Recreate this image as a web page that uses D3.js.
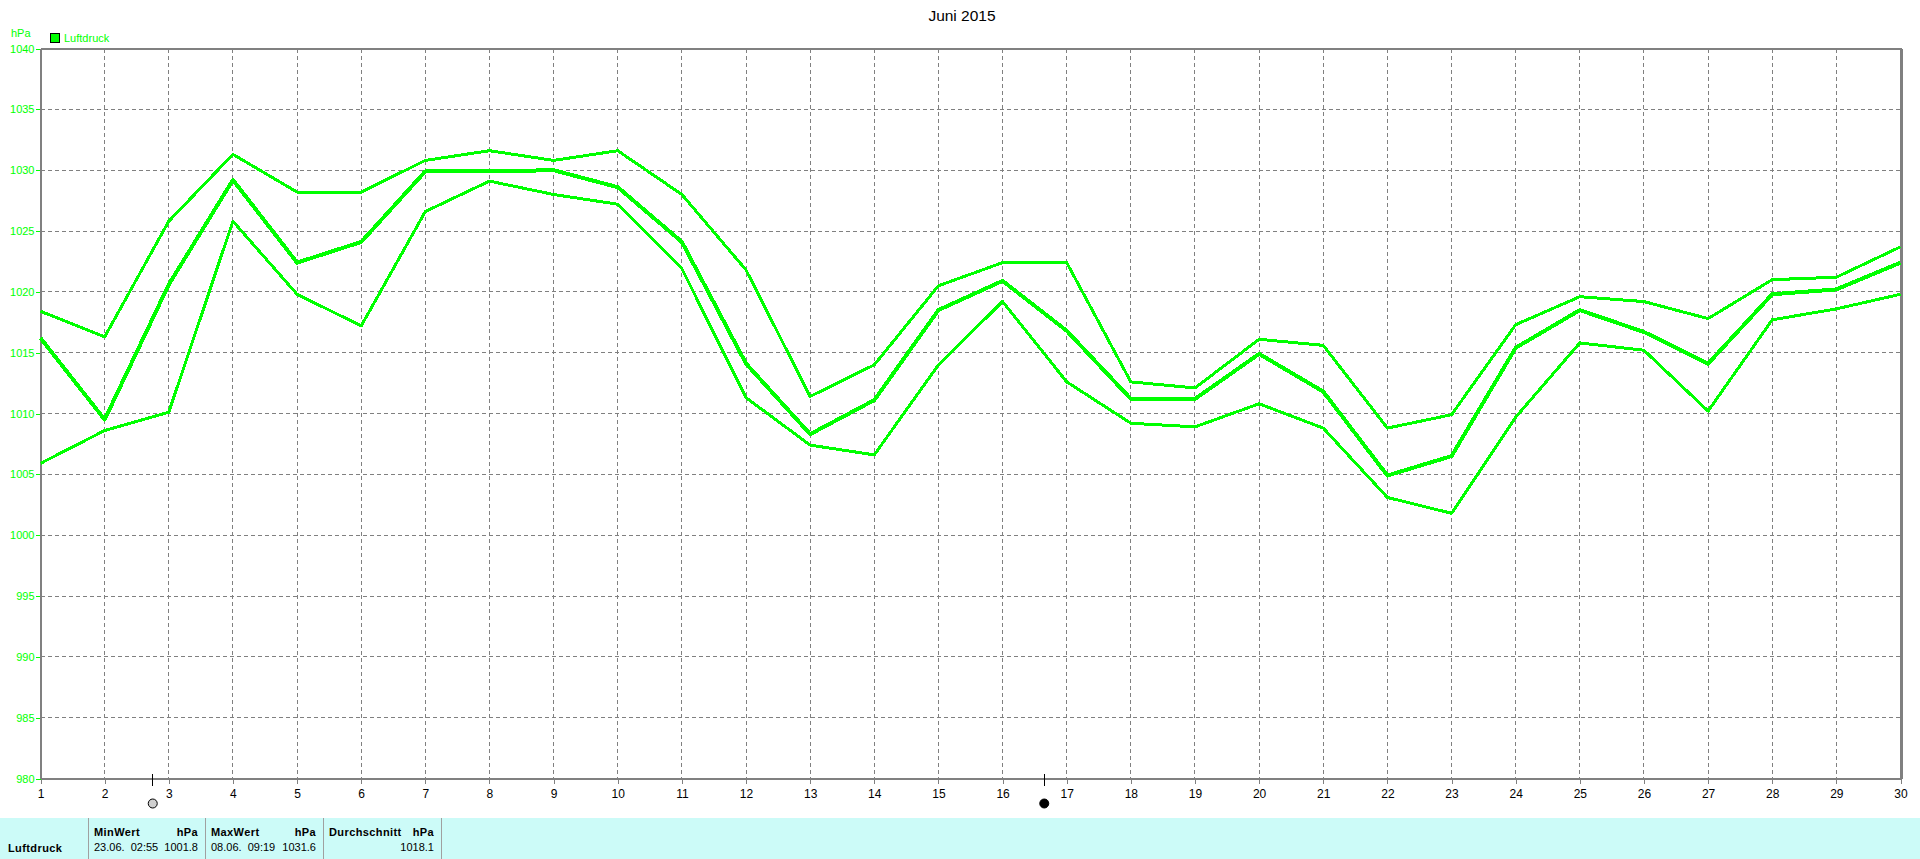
<!DOCTYPE html>
<html><head><meta charset="utf-8">
<script src="https://cdnjs.cloudflare.com/ajax/libs/d3/7.8.5/d3.min.js"></script>
<style>html,body{margin:0;padding:0;background:#fff;overflow:hidden}svg{display:block}text{font-family:"Liberation Sans",Arial,sans-serif}</style>
</head><body><svg id="c" width="1920" height="859"></svg>
<script>
const days = d3.range(1, 31);
const maxVals = [1018.4,1016.3,1025.8,1031.3,1028.2,1028.2,1030.8,1031.6,1030.8,1031.6,1028,1021.8,1011.4,1014,1020.5,1022.4,1022.4,1012.6,1012.1,1016.1,1015.6,1008.8,1009.9,1017.3,1019.6,1019.2,1017.8,1021,1021.2,1023.7];
const avgVals = [1016.2,1009.5,1020.6,1029.2,1022.4,1024.1,1029.9,1029.9,1030,1028.6,1024.1,1014.1,1008.3,1011.1,1018.5,1020.9,1016.8,1011.2,1011.2,1014.9,1011.8,1004.9,1006.5,1015.4,1018.5,1016.7,1014.1,1019.8,1020.2,1022.4];
const minVals = [1005.9,1008.6,1010.1,1025.8,1019.8,1017.2,1026.6,1029.1,1028,1027.2,1021.9,1011.3,1007.4,1006.6,1014,1019.2,1012.6,1009.2,1008.9,1010.8,1008.8,1003.1,1001.8,1009.7,1015.8,1015.2,1010.2,1017.7,1018.6,1019.8];
const yTicks = d3.range(980, 1041, 5);
const moonDays = [2.75, 16.65];
const moonFills = ["#d0d0d0", "#000000"];
const summaryHeads = [["MinWert","hPa"],["MaxWert","hPa"],["Durchschnitt","hPa"]];
const summaryVals = [["23.06.  02:55","1001.8"],["08.06.  09:19","1031.6"],["","1018.1"]];
const GREEN = "#00ff00", GRAY = "#808080";

const svg = d3.select("#c");
const x = d3.scaleLinear().domain([1,30]).range([40.5,1900.5]);
const y = d3.scaleLinear().domain([980,1040]).range([778.5,48.5]);

// grid
const g = svg.append("g").attr("shape-rendering","crispEdges");
g.selectAll(".gx").data(days.slice(1,-1)).join("line")
  .attr("x1",d=>x(d)).attr("x2",d=>x(d)).attr("y1",y(1040)).attr("y2",y(980))
  .attr("stroke",GRAY).attr("stroke-dasharray","4 3");
g.selectAll(".gy").data(yTicks.slice(1,-1)).join("line")
  .attr("x1",x(1)).attr("x2",x(30)).attr("y1",d=>y(d)).attr("y2",d=>y(d))
  .attr("stroke",GRAY).attr("stroke-dasharray","4 3");

// axes
const yAxis = d3.axisLeft(y).tickValues(yTicks).tickSize(5).tickPadding(1).tickFormat(d3.format("d"));
const ya = svg.append("g").attr("transform","translate(40.5,0)").call(yAxis);
ya.select(".domain").remove();
ya.selectAll("line").attr("stroke",GREEN).attr("shape-rendering","crispEdges");
ya.selectAll("text").attr("fill",GREEN).style("font-size","11px").style("font-family",'"Liberation Sans"');

const xAxis = d3.axisBottom(x).tickValues(days).tickSize(5).tickPadding(6).tickFormat(d3.format("d"));
const xa = svg.append("g").attr("transform","translate(0,778.5)").call(xAxis);
xa.select(".domain").remove();
xa.selectAll("line").attr("stroke",GRAY).attr("shape-rendering","crispEdges");
xa.selectAll("text").attr("fill","#000").style("font-size","12px").style("font-family",'"Liberation Sans"');

// frame
const f = svg.append("g").attr("stroke",GRAY).attr("stroke-width",2).attr("shape-rendering","crispEdges");
[[x(1),y(1040),x(30)+1,y(1040)],[x(1),y(980),x(30)+1,y(980)],[x(1),y(1040),x(1),y(980)]].forEach(a=>
  f.append("line").attr("x1",a[0]).attr("y1",a[1]).attr("x2",a[2]).attr("y2",a[3]));
f.append("line").attr("x1",x(30)+1).attr("y1",y(1040)).attr("x2",x(30)+1).attr("y2",y(980)).attr("stroke-width",3);

// series
const line = d3.line().x((d,i)=>x(days[i])).y(d=>y(d));
[[maxVals,3],[minVals,3],[avgVals,4]].forEach(([v,w])=>
  svg.append("path").datum(v).attr("d",line).attr("fill","none").attr("stroke",GREEN)
    .attr("stroke-width",w).attr("stroke-linejoin","round").attr("shape-rendering","crispEdges"));

// title and legend
svg.append("text").attr("x",962).attr("y",21).attr("text-anchor","middle").attr("fill","#000").style("font-size","15.5px").text("Juni 2015");
svg.append("text").attr("x",11).attr("y",37).attr("fill",GREEN).style("font-size","11px").text("hPa");
svg.append("rect").attr("x",50.5).attr("y",33.5).attr("width",9).attr("height",9).attr("fill",GREEN).attr("stroke","#000").attr("shape-rendering","crispEdges");
svg.append("text").attr("x",64).attr("y",42).attr("fill",GREEN).style("font-size","11px").text("Luftdruck");

// moon markers
moonDays.forEach((d,i)=>{
  svg.append("line").attr("x1",x(d)).attr("x2",x(d)).attr("y1",774).attr("y2",786).attr("stroke","#000").attr("shape-rendering","crispEdges");
  svg.append("circle").attr("cx",x(d)).attr("cy",803.5).attr("r",4.5).attr("fill",moonFills[i]).attr("stroke","#000");
});

// summary panel
svg.append("rect").attr("x",0).attr("y",818).attr("width",1920).attr("height",41).attr("fill","#ccfbf8");
const seps = [88,205,323,441];
svg.selectAll(".sep").data(seps).join("line").attr("x1",d=>d+.5).attr("x2",d=>d+.5).attr("y1",818).attr("y2",859)
  .attr("stroke","#a0a0a0").attr("shape-rendering","crispEdges");
svg.append("text").attr("x",8).attr("y",852).attr("font-weight","bold").style("font-size","11px").style("letter-spacing","0.4px").text("Luftdruck");
summaryHeads.forEach((h,i)=>{
  const l = seps[i]+6, r = seps[i+1]-7;
  svg.append("text").attr("x",l).attr("y",836).attr("font-weight","bold").style("font-size","11px").style("letter-spacing","0.4px").text(h[0]);
  svg.append("text").attr("x",r).attr("y",836).attr("text-anchor","end").attr("font-weight","bold").style("font-size","11px").style("letter-spacing","0.4px").text(h[1]);
  svg.append("text").attr("x",l).attr("y",851).style("font-size","11px").style("white-space","pre").attr("xml:space","preserve").text(summaryVals[i][0]);
  svg.append("text").attr("x",r).attr("y",851).attr("text-anchor","end").style("font-size","11px").text(summaryVals[i][1]);
});
</script></body></html>
